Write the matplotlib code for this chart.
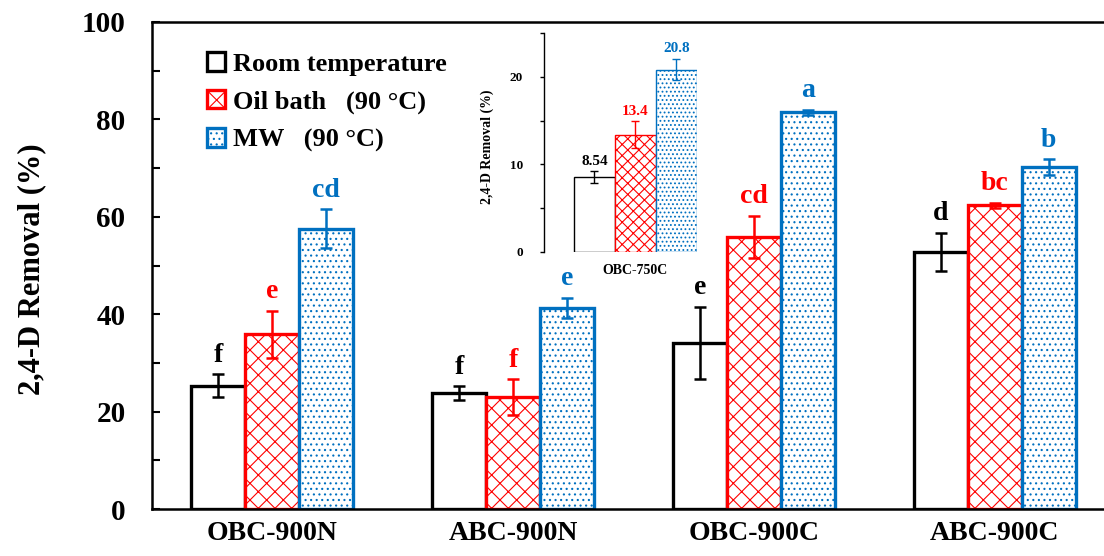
import numpy as np
import matplotlib
matplotlib.use('Agg')
import matplotlib.pyplot as plt
from matplotlib.ticker import MultipleLocator

plt.rcParams['font.family'] = ['Liberation Serif', 'DejaVu Serif']
plt.rcParams['font.weight'] = 'bold'
plt.rcParams['hatch.linewidth'] = 0.8

# ---- data ----
categories = ['OBC-900N', 'ABC-900N', 'OBC-900C', 'ABC-900C']
series_names = ['Room temperature', 'Oil bath   (90 °C)', 'MW   (90 °C)']

room = [25.3, 23.8, 34.1, 52.8]
room_err = [2.4, 1.4, 7.4, 3.9]
oil = [35.9, 23.0, 55.9, 62.4]
oil_err = [4.8, 3.6, 4.3, 0.5]
mw = [57.5, 41.3, 81.5, 70.2]
mw_err = [4.0, 2.1, 0.5, 1.6]

room_letters = ['f', 'f', 'e', 'd']
oil_letters = ['e', 'f', 'cd', 'bc']
mw_letters = ['cd', 'e', 'a', 'b']

inset_category = ['OBC-750C']
inset_vals = [8.54, 13.4, 20.8]
inset_err = [0.65, 1.5, 1.2]
inset_labels = ['8.54', '13.4', '20.8']

colors = ['black', '#FF0000', '#0070C0']
hatches = [None, 'xx', '...']
inset_hatches = [None, 'xxx', '....']

# ---- main chart ----
fig = plt.figure(figsize=(11.04, 5.56), dpi=100)
ax = fig.add_axes([152 / 1104, 47 / 556, 963 / 1104, 487 / 556])

x = np.arange(len(categories))
w = 0.224
values = [room, oil, mw]
errors = [room_err, oil_err, mw_err]
letters = [room_letters, oil_letters, mw_letters]

for i in range(3):
    pos = x + (i - 1) * w
    ax.bar(pos, values[i], w, facecolor='white', edgecolor=colors[i],
           hatch=hatches[i], linewidth=2.4, label=series_names[i], zorder=2)
    ax.errorbar(pos, values[i], yerr=errors[i], fmt='none', ecolor=colors[i],
                elinewidth=1.8, capsize=4.5, capthick=1.8, zorder=3)
    for j in range(len(categories)):
        ax.annotate(letters[i][j], (pos[j], values[i][j] + errors[i][j]),
                    xytext=(0, 9), textcoords='offset points', ha='center',
                    va='baseline', color=colors[i], fontsize=20, fontweight='bold')

ax.set_xlim(-0.5, 3.5)
ax.set_ylim(0, 100)
ax.set_xticks(x)
ax.set_xticklabels(categories, fontsize=20, fontweight='bold')
ax.tick_params(axis='x', length=0, pad=9)
ax.yaxis.set_major_locator(MultipleLocator(20))
ax.yaxis.set_minor_locator(MultipleLocator(10))
ax.tick_params(axis='y', which='both', direction='in', length=6, width=1.5,
               labelsize=21, pad=19)
ax.set_ylabel('2,4-D Removal (%)', fontsize=22, fontweight='bold')
ax.yaxis.set_label_coords(-0.110, 0.493)
for s in ['left', 'top', 'bottom']:
    ax.spines[s].set_linewidth(1.8)
ax.spines['right'].set_visible(False)

leg = ax.legend(loc='upper left', bbox_to_anchor=(0.046, 0.96), frameon=False,
                fontsize=19, handlelength=0.7, handleheight=0.7,
                handletextpad=0.3, labelspacing=0.55, borderaxespad=0)

# ---- inset ----
ins = fig.add_axes([544 / 1104, 304 / 556, 153 / 1104, 219 / 556])
iw = 1.0
for i in range(3):
    ins.bar((i - 1) * iw, inset_vals[i], iw, facecolor='white',
            edgecolor=colors[i], hatch=inset_hatches[i],
            linewidth=1.0, zorder=2)
    ins.errorbar((i - 1) * iw, inset_vals[i], yerr=inset_err[i], fmt='none',
                 ecolor=colors[i], elinewidth=1.0, capsize=3, capthick=1.0, zorder=3)
    ins.annotate(inset_labels[i], ((i - 1) * iw, inset_vals[i] + inset_err[i]),
                 xytext=(0, 5), textcoords='offset points', ha='center',
                 va='baseline', color=colors[i], fontsize=11, fontweight='bold')
ins.set_xlim(-2.23, 1.5)
ins.set_ylim(0, 25)
ins.set_xticks([0])
ins.set_xticklabels(inset_category, fontsize=10, fontweight='bold')
ins.tick_params(axis='x', length=0, pad=9)
ins.yaxis.set_major_locator(MultipleLocator(10))
ins.yaxis.set_minor_locator(MultipleLocator(5))
ins.tick_params(axis='y', which='both', direction='out', length=3, width=1,
                labelsize=9.5, pad=12)
ins.set_ylabel('2,4-D Removal (%)', fontsize=10, fontweight='bold')
ins.yaxis.set_label_coords(-0.33, 0.48)
for s in ['top', 'right', 'bottom']:
    ins.spines[s].set_visible(False)
ins.spines['left'].set_linewidth(1.0)
ins.patch.set_alpha(0)

fig.savefig('out.png', dpi=100)
